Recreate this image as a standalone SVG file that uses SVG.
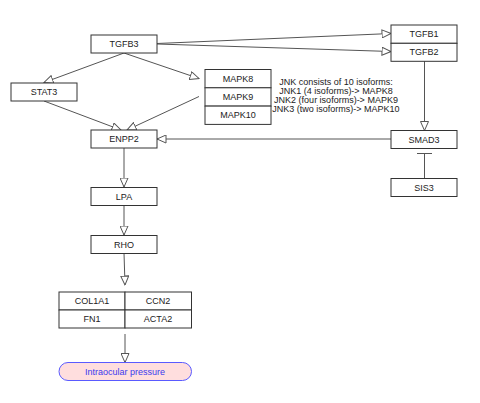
<svg xmlns="http://www.w3.org/2000/svg" width="480" height="403" viewBox="0 0 480 403">
<defs>
<style>
.box{fill:#fff;stroke:#333;stroke-width:1}
.lbl{font-family:"Liberation Sans",Arial,sans-serif;font-size:9px;fill:#222;text-anchor:middle}
.note{font-family:"Liberation Sans",Arial,sans-serif;font-size:9px;fill:#222;text-anchor:middle}
.edge{fill:none;stroke:#555;stroke-width:1}
.pill{fill:#ffdede;stroke:#5a5aff;stroke-width:1}
.plbl{font-family:"Liberation Sans",Arial,sans-serif;font-size:9px;fill:#3a3aee;text-anchor:middle}
</style>
<marker id="arr" viewBox="0 0 10 9" refX="9.5" refY="4.5" markerWidth="10" markerHeight="9" markerUnits="userSpaceOnUse" orient="auto">
<path d="M0.5,0.5 L9.5,4.5 L0.5,8.5 Z" fill="#fff" stroke="#555" stroke-width="1"/>
</marker>
</defs>
<rect width="480" height="403" fill="#fff"/>
<g id="connectors">
<path class="edge" d="M157,43.5 L391,33.5" marker-end="url(#arr)"/>
<path class="edge" d="M157,44 L391,51.5" marker-end="url(#arr)"/>
<path class="edge" d="M124,53 L44,82.5" marker-end="url(#arr)"/>
<path class="edge" d="M124,53 L199,78.5" marker-end="url(#arr)"/>
<path class="edge" d="M44,101 L121,130" marker-end="url(#arr)"/>
<path class="edge" d="M199,96.5 L127,130" marker-end="url(#arr)"/>
<path class="edge" d="M391,139 L157,139" marker-end="url(#arr)"/>
<path class="edge" d="M424.5,61 L424.5,130.5" marker-end="url(#arr)"/>
<path class="edge" d="M424.5,178 L424.5,153.5 M417,153.5 L432,153.5"/>
<path class="edge" d="M124,148 L124,187" marker-end="url(#arr)"/>
<path class="edge" d="M124,205 L124,235" marker-end="url(#arr)"/>
<path class="edge" d="M124,253 L125,285" marker-end="url(#arr)"/>
<path class="edge" d="M125,334 L125,362.5" marker-end="url(#arr)"/>
</g>
<g id="TGFB3"><rect class="box" x="91" y="35" width="66" height="18"/><text class="lbl" x="124" y="47">TGFB3</text></g>
<g id="STAT3"><rect class="box" x="11" y="83" width="66" height="18"/><text class="lbl" x="44" y="95">STAT3</text></g>
<g id="ENPP2"><rect class="box" x="91" y="130" width="66" height="18"/><text class="lbl" x="124" y="142">ENPP2</text></g>
<g id="MAPK8"><rect class="box" x="205" y="69.5" width="66" height="18.3"/><text class="lbl" x="238" y="81.5">MAPK8</text></g>
<g id="MAPK9"><rect class="box" x="205" y="87.8" width="66" height="18.3"/><text class="lbl" x="238" y="100">MAPK9</text></g>
<g id="MAPK10"><rect class="box" x="205" y="106.1" width="66" height="18.3"/><text class="lbl" x="238" y="118.2">MAPK10</text></g>
<g id="note">
<text class="note" x="336" y="84.5">JNK consists of 10 isoforms:</text>
<text class="note" x="336" y="93.8">JNK1 (4 isoforms)-&gt; MAPK8</text>
<text class="note" x="336" y="103.1">JNK2 (four isoforms)-&gt; MAPK9</text>
<text class="note" x="336" y="112.4">JNK3 (two isoforms)-&gt; MAPK10</text>
</g>
<g id="TGFB1"><rect class="box" x="391" y="25" width="66" height="18.3"/><text class="lbl" x="424" y="37">TGFB1</text></g>
<g id="TGFB2"><rect class="box" x="391" y="43.3" width="66" height="18"/><text class="lbl" x="424" y="55.3">TGFB2</text></g>
<g id="SMAD3"><rect class="box" x="391" y="130.5" width="66" height="18"/><text class="lbl" x="424" y="142.5">SMAD3</text></g>
<g id="SIS3"><rect class="box" x="391" y="178.5" width="66" height="18"/><text class="lbl" x="424" y="190.5">SIS3</text></g>
<g id="LPA"><rect class="box" x="91" y="187.5" width="66" height="18"/><text class="lbl" x="124" y="199.5">LPA</text></g>
<g id="RHO"><rect class="box" x="91" y="235.5" width="66" height="18"/><text class="lbl" x="124" y="247.5">RHO</text></g>
<g id="COL1A1"><rect class="box" x="59" y="292" width="66" height="18"/><text class="lbl" x="92" y="304">COL1A1</text></g>
<g id="CCN2"><rect class="box" x="125" y="292" width="66.5" height="18"/><text class="lbl" x="158" y="304">CCN2</text></g>
<g id="FN1"><rect class="box" x="59" y="310" width="66" height="18"/><text class="lbl" x="92" y="322">FN1</text></g>
<g id="ACTA2"><rect class="box" x="125" y="310" width="66.5" height="18"/><text class="lbl" x="158" y="322">ACTA2</text></g>
<g id="IOP"><rect class="pill" x="59" y="362.5" width="132.5" height="18" rx="9" ry="9"/><text class="plbl" x="125" y="374.5">Intraocular pressure</text></g>
</svg>
